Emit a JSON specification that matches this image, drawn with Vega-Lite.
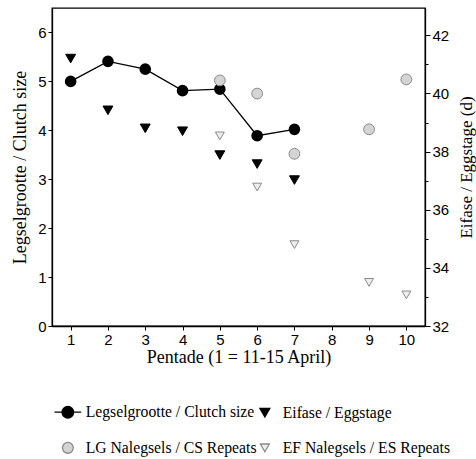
{
  "$schema": "https://vega.github.io/schema/vega-lite/v6.json",
  "width": 373,
  "height": 318,
  "autosize": "none",
  "padding": {"left": 52, "top": 8, "right": 51, "bottom": 133},
  "background": "white",
  "config": {
    "view": {"stroke": "black", "strokeWidth": 1.3},
    "axis": {
      "grid": false,
      "domainColor": "black",
      "domainWidth": 1.3,
      "tickColor": "black",
      "tickSize": 4,
      "labelFont": "Liberation Sans",
      "labelFontSize": 15,
      "labelColor": "black",
      "labelPadding": 2,
      "titleFont": "Liberation Serif",
      "titleFontSize": 18,
      "titleFontWeight": "normal",
      "titleColor": "black"
    }
  },
  "data": {
    "values": [
      {"pentade": 1, "series": "Legselgrootte / Clutch size", "axis": "L", "value": 5.0},
      {"pentade": 2, "series": "Legselgrootte / Clutch size", "axis": "L", "value": 5.41},
      {"pentade": 3, "series": "Legselgrootte / Clutch size", "axis": "L", "value": 5.25},
      {"pentade": 4, "series": "Legselgrootte / Clutch size", "axis": "L", "value": 4.81},
      {"pentade": 5, "series": "Legselgrootte / Clutch size", "axis": "L", "value": 4.84},
      {"pentade": 6, "series": "Legselgrootte / Clutch size", "axis": "L", "value": 3.89},
      {"pentade": 7, "series": "Legselgrootte / Clutch size", "axis": "L", "value": 4.02},
      {"pentade": 5, "series": "LG Nalegsels / CS Repeats", "axis": "L", "value": 5.02},
      {"pentade": 6, "series": "LG Nalegsels / CS Repeats", "axis": "L", "value": 4.75},
      {"pentade": 7, "series": "LG Nalegsels / CS Repeats", "axis": "L", "value": 3.52},
      {"pentade": 9, "series": "LG Nalegsels / CS Repeats", "axis": "L", "value": 4.02},
      {"pentade": 10, "series": "LG Nalegsels / CS Repeats", "axis": "L", "value": 5.04},
      {"pentade": 1, "series": "Eifase / Eggstage", "axis": "R", "value": 41.2},
      {"pentade": 2, "series": "Eifase / Eggstage", "axis": "R", "value": 39.42},
      {"pentade": 3, "series": "Eifase / Eggstage", "axis": "R", "value": 38.8},
      {"pentade": 4, "series": "Eifase / Eggstage", "axis": "R", "value": 38.7},
      {"pentade": 5, "series": "Eifase / Eggstage", "axis": "R", "value": 37.88},
      {"pentade": 6, "series": "Eifase / Eggstage", "axis": "R", "value": 37.57},
      {"pentade": 7, "series": "Eifase / Eggstage", "axis": "R", "value": 37.02},
      {"pentade": 5, "series": "EF Nalegsels / ES Repeats", "axis": "R", "value": 38.54},
      {"pentade": 6, "series": "EF Nalegsels / ES Repeats", "axis": "R", "value": 36.78},
      {"pentade": 7, "series": "EF Nalegsels / ES Repeats", "axis": "R", "value": 34.8},
      {"pentade": 9, "series": "EF Nalegsels / ES Repeats", "axis": "R", "value": 33.5},
      {"pentade": 10, "series": "EF Nalegsels / ES Repeats", "axis": "R", "value": 33.07}
    ]
  },
  "encoding": {
    "x": {
      "field": "pentade",
      "type": "quantitative",
      "scale": {"domain": [0.5, 10.5], "nice": false, "zero": false},
      "axis": {"values": [1, 2, 3, 4, 5, 6, 7, 8, 9, 10], "title": "Pentade (1 = 11-15 April)", "titlePadding": 1}
    }
  },
  "layer": [
    {
      "transform": [{"filter": "datum.axis === 'L'"}],
      "encoding": {
        "y": {
          "field": "value",
          "type": "quantitative",
          "scale": {"domain": [0, 6.5], "nice": false},
          "axis": {"values": [0, 1, 2, 3, 4, 5, 6], "title": "Legselgrootte / Clutch size", "titlePadding": 8}
        }
      },
      "layer": [
        {
          "transform": [{"filter": "datum.series === 'Legselgrootte / Clutch size'"}],
          "mark": {"type": "line", "color": "black", "strokeWidth": 1.3},
          "encoding": {}
        },
        {
          "transform": [{"filter": "datum.series === 'Legselgrootte / Clutch size'"}],
          "mark": {"type": "point", "shape": "circle", "filled": true, "color": "black", "opacity": 1, "size": 135},
          "encoding": {}
        },
        {
          "transform": [{"filter": "datum.series !== 'Legselgrootte / Clutch size'"}],
          "mark": {"type": "point", "filled": true, "opacity": 1, "strokeWidth": 1},
          "encoding": {
            "shape": {
              "field": "series",
              "type": "nominal",
              "scale": {
                "domain": ["Legselgrootte / Clutch size", "LG Nalegsels / CS Repeats", "Eifase / Eggstage", "EF Nalegsels / ES Repeats"],
                "range": ["M-2.3,0L-1,0M1,0L2.3,0M-1,0A1,1,0,1,1,1,0A1,1,0,1,1,-1,0Z", "circle", "triangle-down", "triangle-down"]
              },
              "legend": {
                "title": null,
                "orient": "none",
                "legendX": 8,
                "legendY": 396,
                "columns": 2,
                "labelFont": "Liberation Serif",
                "labelFontSize": 15.7,
                "labelColor": "black",
                "labelLimit": 300,
                "labelOffset": 10,
                "rowPadding": 18,
                "columnPadding": 0,
                "symbolStrokeWidth": 1.3
              }
            },
            "fill": {
              "field": "series",
              "type": "nominal",
              "scale": {
                "domain": ["Legselgrootte / Clutch size", "LG Nalegsels / CS Repeats", "Eifase / Eggstage", "EF Nalegsels / ES Repeats"],
                "range": ["black", "#d4d4d4", "black", "#eeeeee"]
              }
            },
            "stroke": {
              "field": "series",
              "type": "nominal",
              "scale": {
                "domain": ["Legselgrootte / Clutch size", "LG Nalegsels / CS Repeats", "Eifase / Eggstage", "EF Nalegsels / ES Repeats"],
                "range": ["black", "#8a8a8a", "black", "#8a8a8a"]
              }
            },
            "size": {
              "field": "series",
              "type": "nominal",
              "scale": {
                "domain": ["Legselgrootte / Clutch size", "LG Nalegsels / CS Repeats", "Eifase / Eggstage", "EF Nalegsels / ES Repeats"],
                "range": [135, 80, 110, 85]
              }
            }
          }
        }
      ]
    },
    {
      "transform": [{"filter": "datum.axis === 'R'"}],
      "mark": {"type": "point", "filled": true, "opacity": 1, "strokeWidth": 1},
      "encoding": {
        "y": {
          "field": "value",
          "type": "quantitative",
          "scale": {"domain": [32, 42.94], "nice": false, "zero": false},
          "axis": {
            "orient": "right",
            "values": [32, 33, 34, 35, 36, 37, 38, 39, 40, 41, 42],
            "labelExpr": "datum.value % 2 === 0 ? datum.label : ''",
            "tickSize": {"condition": {"test": "datum.value % 2 === 0", "value": 5}, "value": 3},
            "title": "Eifase / Eggstage (d)",
            "titleAngle": 270,
            "titleFontSize": 17,
            "titlePadding": 27
          }
        },
        "shape": {"field": "series", "type": "nominal"},
        "fill": {"field": "series", "type": "nominal"},
        "stroke": {"field": "series", "type": "nominal"},
        "size": {"field": "series", "type": "nominal"}
      }
    }
  ],
  "resolve": {"scale": {"y": "independent"}}
}
